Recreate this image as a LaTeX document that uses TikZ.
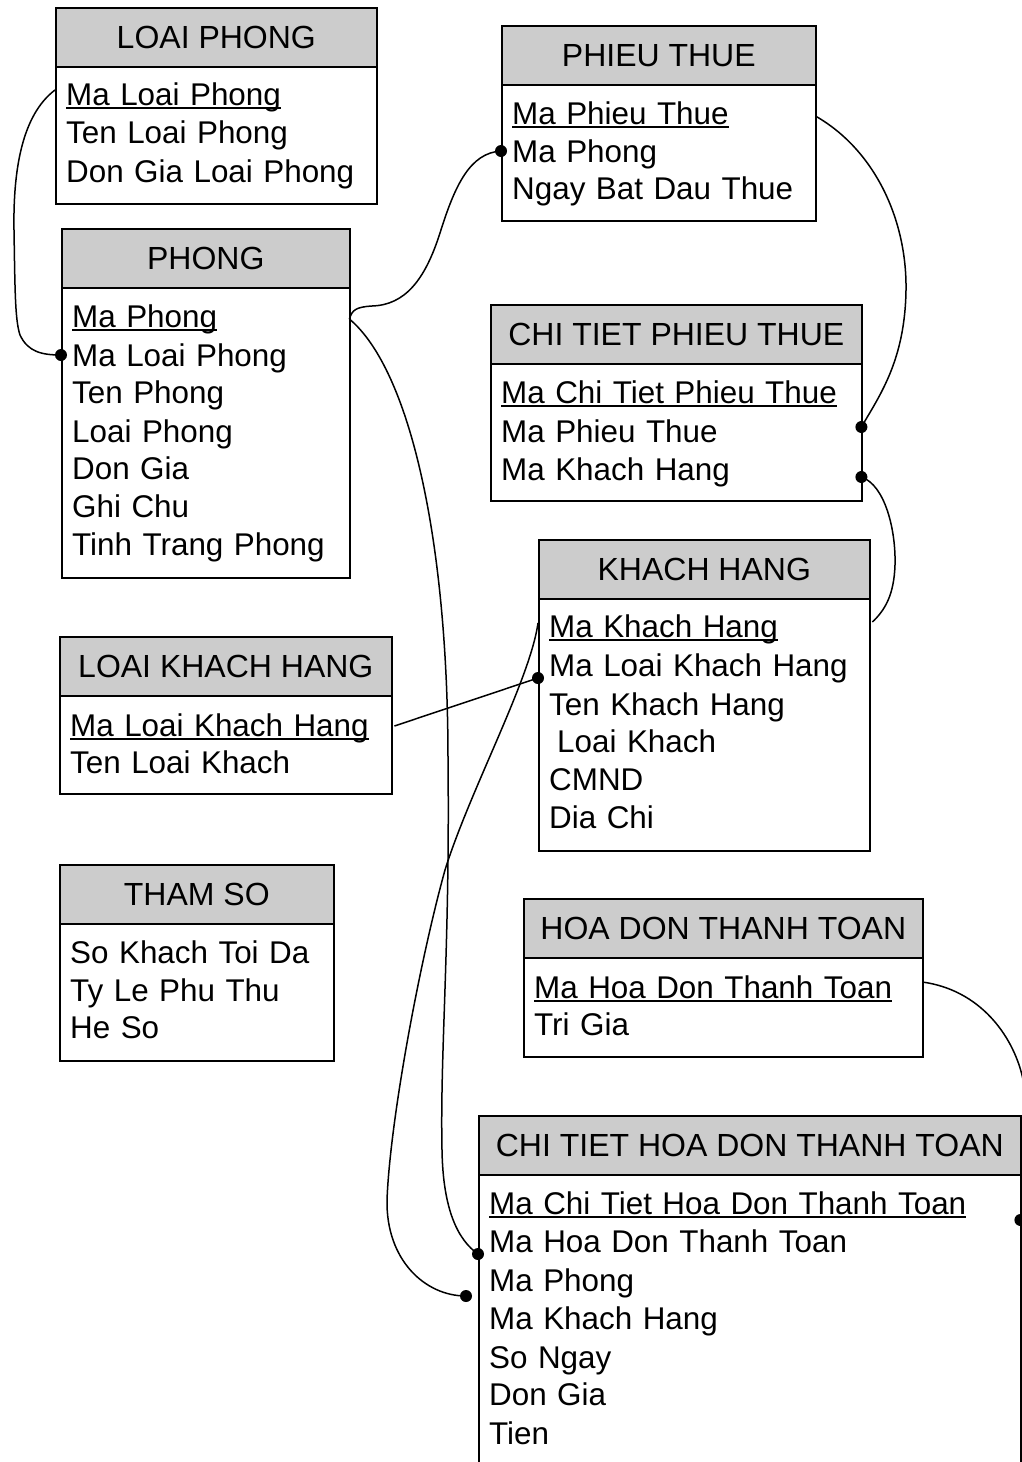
\documentclass[tikz,border=0pt]{standalone}
\usepackage{fontspec}
\setmainfont{Liberation Sans}
\definecolor{hdrgray}{HTML}{CCCCCC}
% primary-key field: text with a rule just under the baseline
\newcommand\pkey[1]{\setbox0\hbox{#1}\rlap{\vrule height -2pt depth 4pt width \wd0}#1}
\begin{document}
\begin{tikzpicture}[x=1pt,y=-1pt,
  every node/.style={font=\fontsize{32}{38}\selectfont},
  tbl/.style={draw, line width=1.6pt, anchor=north west, inner sep=0pt},
  hdr/.style={draw, line width=1.6pt, fill=hdrgray, anchor=north west, inner sep=0pt,
              text height=23pt, text depth=0pt, minimum height=59pt},
  row/.style={anchor=base west, inner xsep=11pt, inner ysep=0pt,
              font=\fontsize{31.4}{38}\selectfont,
              text height=23pt, text depth=7pt, text width=#1, align=left},
  link/.style={line width=1.5pt},
  dotr/.style={radius=6pt}]
\useasboundingbox (0,0) rectangle (1021,1462);

% LOAI PHONG
\node[tbl, minimum width=321pt, minimum height=196pt] (lp) at (55,7) {};
\node[hdr, minimum width=321pt] (lph) at (55,7) {LOAI PHONG};
\node[row=299pt] (lp1) at (55,105) {\pkey{Ma Loai Phong}};
\node[row=299pt] (lp2) at (55,143) {Ten Loai Phong};
\node[row=299pt] (lp3) at (55,182) {Don Gia Loai Phong};

% PHONG
\node[tbl, minimum width=288pt, minimum height=349pt] (ph) at (61,228) {};
\node[hdr, minimum width=288pt] (phh) at (61,228) {PHONG};
\node[row=266pt] (ph1) at (61,327) {\pkey{Ma Phong}};
\node[row=266pt] (ph2) at (61,366) {Ma Loai Phong};
\node[row=266pt] (ph3) at (61,403) {Ten Phong};
\node[row=266pt] (ph4) at (61,442) {Loai Phong};
\node[row=266pt] (ph5) at (61,479) {Don Gia};
\node[row=266pt] (ph6) at (61,517) {Ghi Chu};
\node[row=266pt] (ph7) at (61,555) {Tinh Trang Phong};

% PHIEU THUE
\node[tbl, minimum width=314pt, minimum height=195pt] (pt) at (501,25) {};
\node[hdr, minimum width=314pt] (pth) at (501,25) {PHIEU THUE};
\node[row=292pt] (pt1) at (501,124) {\pkey{Ma Phieu Thue}};
\node[row=292pt] (pt2) at (501,162) {Ma Phong};
\node[row=292pt] (pt3) at (501,199) {Ngay Bat Dau Thue};

% CHI TIET PHIEU THUE
\node[tbl, minimum width=371pt, minimum height=196pt] (ctpt) at (490,304) {};
\node[hdr, minimum width=371pt] (ctpth) at (490,304) {CHI TIET PHIEU THUE};
\node[row=349pt] (ctpt1) at (490,403) {\pkey{Ma Chi Tiet Phieu Thue}};
\node[row=349pt] (ctpt2) at (490,442) {Ma Phieu Thue};
\node[row=349pt] (ctpt3) at (490,480) {Ma Khach Hang};

% KHACH HANG
\node[tbl, minimum width=331pt, minimum height=311pt] (kh) at (538,539) {};
\node[hdr, minimum width=331pt] (khh) at (538,539) {KHACH HANG};
\node[row=309pt] (kh1) at (538,637) {\pkey{Ma Khach Hang}};
\node[row=309pt] (kh2) at (538,676) {Ma Loai Khach Hang};
\node[row=309pt] (kh3) at (538,715) {Ten Khach Hang};
\node[row=309pt] (kh4) at (538,752) {\hspace*{8pt}Loai Khach};
\node[row=309pt] (kh5) at (538,790) {CMND};
\node[row=309pt] (kh6) at (538,828) {Dia Chi};

% LOAI KHACH HANG
\node[tbl, minimum width=332pt, minimum height=157pt] (lkh) at (59,636) {};
\node[hdr, minimum width=332pt] (lkhh) at (59,636) {LOAI KHACH HANG};
\node[row=310pt] (lkh1) at (59,736) {\pkey{Ma Loai Khach Hang}};
\node[row=310pt] (lkh2) at (59,773) {Ten Loai Khach};

% THAM SO
\node[tbl, minimum width=274pt, minimum height=196pt] (ts) at (59,864) {};
\node[hdr, minimum width=274pt] (tsh) at (59,864) {THAM SO};
\node[row=252pt] (ts1) at (59,963) {So Khach Toi Da};
\node[row=252pt] (ts2) at (59,1001) {Ty Le Phu Thu};
\node[row=252pt] (ts3) at (59,1038) {He So};

% HOA DON THANH TOAN
\node[tbl, minimum width=399pt, minimum height=158pt] (hd) at (523,898) {};
\node[hdr, minimum width=399pt] (hdh) at (523,898) {HOA DON THANH TOAN};
\node[row=377pt] (hd1) at (523,998) {\pkey{Ma Hoa Don Thanh Toan}};
\node[row=377pt] (hd2) at (523,1035) {Tri Gia};

% CHI TIET HOA DON THANH TOAN
\node[tbl, minimum width=542pt, minimum height=400pt] (cthd) at (478,1115) {};
\node[hdr, minimum width=542pt] (cthdh) at (478,1115) {CHI TIET HOA DON THANH TOAN};
\node[row=520pt] (cthd1) at (478,1214) {\pkey{Ma Chi Tiet Hoa Don Thanh Toan}};
\node[row=520pt] (cthd2) at (478,1252) {Ma Hoa Don Thanh Toan};
\node[row=520pt] (cthd3) at (478,1291) {Ma Phong};
\node[row=520pt] (cthd4) at (478,1329) {Ma Khach Hang};
\node[row=520pt] (cthd5) at (478,1368) {So Ngay};
\node[row=520pt] (cthd6) at (478,1405) {Don Gia};
\node[row=520pt] (cthd7) at (478,1444) {Tien};

% relationships
\draw[link] ([yshift=7pt]lp1.west) .. controls (22,115) and (13,170) .. (14,230)
  .. controls (15,290) and (15,320) .. (20,335)
  .. controls (28,352) and (42,355) .. ([yshift=3pt]ph2.west);
\fill ([yshift=3pt]ph2.west) circle[dotr];

\draw[link] (ph1.east) .. controls (352,310) and (356,307) .. (372,306)
  .. controls (405,305) and (425,280) .. (440,233)
  .. controls (455,185) and (470,153) .. ([yshift=3pt]pt2.west);
\fill ([yshift=3pt]pt2.west) circle[dotr];

\draw[link] (ph1.east) .. controls (410,370) and (448,540) .. (448,760)
  .. controls (450,950) and (440,1050) .. (442,1150)
  .. controls (443,1210) and (458,1240) .. ([yshift=-10pt]cthd2.west);
\fill ([yshift=-10pt]cthd2.west) circle[dotr];

\draw[link] (pt1.east) .. controls (875,150) and (907,220) .. (906,290)
  .. controls (905,360) and (880,395) .. ([yshift=7pt]ctpt2.east);
\fill ([yshift=7pt]ctpt2.east) circle[dotr];

\draw[link] ([yshift=-5pt]ctpt3.east) .. controls (885,485) and (896,530) .. (895,565)
  .. controls (894,595) and (885,610) .. ([xshift=3pt,yshift=7pt]kh1.east);
\fill ([yshift=-5pt]ctpt3.east) circle[dotr];

\draw[link] ([xshift=3pt,yshift=2pt]lkh1.east) -- ([yshift=-10pt]kh2.west);
\fill ([yshift=-10pt]kh2.west) circle[dotr];

\draw[link] ([yshift=6pt]kh1.west) .. controls (530,680) and (470,790) .. (445,870)
  .. controls (420,960) and (390,1120) .. (387,1200)
  .. controls (386,1260) and (425,1296) .. ([xshift=-12pt,yshift=-13pt]cthd3.west);
\fill ([xshift=-12pt,yshift=-13pt]cthd3.west) circle[dotr];

\draw[link] ([yshift=8pt]hd1.east) .. controls (980,990) and (1012,1035) .. (1022,1075)
  .. controls (1035,1130) and (1032,1200) .. ([yshift=-14pt]cthd1.east);
\fill ([yshift=-14pt]cthd1.east) circle[dotr];
\end{tikzpicture}
\end{document}
